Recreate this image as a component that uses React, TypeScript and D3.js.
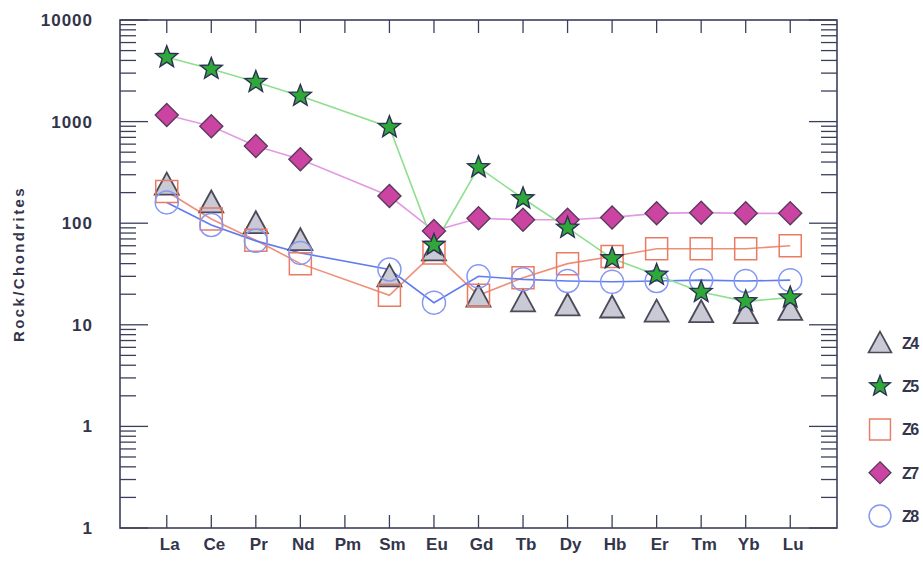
import React from "react";
import * as d3 from "d3";

// REE spider diagram, values normalised to chondrite
const elements = ["La", "Ce", "Pr", "Nd", "Pm", "Sm", "Eu", "Gd", "Tb", "Dy", "Hb", "Er", "Tm", "Yb", "Lu"];

const z4 = [240, 160, 100, 68, null, 30, 54, 19, 17, 15.5, 14.8, 13.5, 13.3, 13, 14];
const z5 = [4300, 3300, 2450, 1790, null, 880, 61, 355, 175, 90, 45, 31, 21, 17, 18.5];
const z6 = [205, 110, 68, 40, null, 19.5, 51, 19.5, 29, 40, 47, 56, 56, 56, 60];
const z7 = [1160, 900, 575, 425, null, 185, 84, 112, 108, 108, 114, 125, 127, 125, 125];
const z8 = [160, 96, 67, 51, null, 35, 16.5, 30, 28, 27, 26.5, 27, 27.5, 27, 27.5];

const seriesNames = ["Z4", "Z5", "Z6", "Z7", "Z8"];
const yTickValues = [10000, 1000, 100, 10, 1, 0.1];
const yTickLabels = ["10000", "1000", "100", "10", "1", "1"];

const W = 923;
const H = 564;
const margin = { top: 20, right: 86, bottom: 36, left: 120 };
const FONT = "'Liberation Sans', Arial, sans-serif";
const TEXT = "#33354a";

type Shape = "triangle" | "star" | "square" | "diamond" | "circle";

const styles: Record<string, { shape: Shape; fill: string; stroke: string; line: string | null; sw: number }> = {
  Z4: { shape: "triangle", fill: "#c9cad6", stroke: "#4b4b58", line: null, sw: 1.8 },
  Z5: { shape: "star", fill: "#2fa83a", stroke: "#2d3052", line: "#8fdf8f", sw: 1.4 },
  Z6: { shape: "square", fill: "none", stroke: "#ec7a62", line: "#ef8f78", sw: 1.5 },
  Z7: { shape: "diamond", fill: "#cc44a2", stroke: "#5a3a5c", line: "#e39ae4", sw: 1.4 },
  Z8: { shape: "circle", fill: "none", stroke: "#8597f3", line: "#5f7cf0", sw: 1.5 },
};

function shapePath(shape: Shape): string {
  const p = d3.path();
  if (shape === "triangle") {
    p.moveTo(0, -12);
    p.lineTo(12, 10);
    p.lineTo(-12, 10);
    p.closePath();
  } else if (shape === "square") {
    p.rect(-11, -11, 22, 22);
  } else if (shape === "diamond") {
    p.moveTo(0, -11.5);
    p.lineTo(11.5, 0);
    p.lineTo(0, 11.5);
    p.lineTo(-11.5, 0);
    p.closePath();
  } else if (shape === "circle") {
    p.arc(0, 0, 11.5, 0, Math.PI * 2);
  } else {
    for (let i = 0; i < 10; i++) {
      const r = i % 2 === 0 ? 11.5 : 4.9;
      const a = -Math.PI / 2 + (i * Math.PI) / 5;
      if (i === 0) p.moveTo(r * Math.cos(a), r * Math.sin(a));
      else p.lineTo(r * Math.cos(a), r * Math.sin(a));
    }
    p.closePath();
  }
  return p.toString();
}

export default function App() {
  const left = margin.left;
  const right = W - margin.right;
  const top = margin.top;
  const bottom = H - margin.bottom;

  const x = d3.scalePoint<string>().domain(elements).range([left, right]).padding(1.05);
  const y = d3.scaleLog().domain([0.1, 10000]).range([bottom, top]);

  const series = [
    { name: "Z4", values: z4 },
    { name: "Z5", values: z5 },
    { name: "Z6", values: z6 },
    { name: "Z8", values: z8 },
    { name: "Z7", values: z7 },
  ];
  // draw order: Z4, Z6, Z8 underneath, Z7 and Z5 on top
  const order = ["Z4", "Z6", "Z8", "Z7", "Z5"];
  const ordered = order.map((n) => series.find((s) => s.name === n)!);

  const line = d3
    .line<{ el: string; v: number }>()
    .x((d) => x(d.el)!)
    .y((d) => y(d.v));

  const pts = (vals: (number | null)[]) =>
    elements.map((el, i) => ({ el, v: vals[i] as number })).filter((d) => d.v != null);

  const allTicks = y.ticks();
  const legendY = d3.scalePoint<string>().domain(seriesNames).range([343, 516]);

  return (
    <svg width={W} height={H} style={{ position: "absolute", left: 0, top: 0, background: "#fff" }} fontFamily={FONT}>
      {/* minor/major ticks on left and right */}
      {allTicks.map((t, i) => {
        const major = Math.abs(Math.log10(t) - Math.round(Math.log10(t))) < 1e-9;
        const len = major ? 28 : 16;
        return (
          <g key={"yt" + i} stroke="#3c3f5c" strokeWidth={1.3}>
            <line x1={left} x2={left + len} y1={y(t)} y2={y(t)} />
            <line x1={right - len} x2={right} y1={y(t)} y2={y(t)} />
          </g>
        );
      })}
      {/* element ticks top and bottom */}
      {elements.map((el) => (
        <g key={"xt" + el} stroke="#3c3f5c" strokeWidth={1.3}>
          <line x1={x(el)} x2={x(el)} y1={bottom} y2={bottom - 13} />
          <line x1={x(el)} x2={x(el)} y1={top} y2={top + 13} />
        </g>
      ))}
      <rect x={left} y={top} width={right - left} height={bottom - top} fill="none" stroke="#3c3f5c" strokeWidth={1.6} />

      {/* y labels */}
      {yTickValues.map((v, i) => (
        <text
          key={"yl" + i}
          x={93}
          y={y(v)}
          dy="0.35em"
          textAnchor="end"
          fontSize={17}
          fontWeight="bold"
          letterSpacing={1}
          fill={TEXT}
        >
          {yTickLabels[i]}
        </text>
      ))}
      <text
        transform={`translate(24,${(top + bottom) / 2 - 10}) rotate(-90)`}
        textAnchor="middle"
        fontSize={15}
        fontWeight="bold"
        letterSpacing={2.4}
        fill={TEXT}
      >
        Rock/Chondrites
      </text>

      {/* x labels */}
      {elements.map((el) => (
        <text key={"xl" + el} x={x(el)! + 3} y={bottom + 22} textAnchor="middle" fontSize={17} fontWeight="bold" fill={TEXT}>
          {el}
        </text>
      ))}

      {/* lines */}
      {ordered.map((s) => {
        const st = styles[s.name];
        if (!st.line) return null;
        return <path key={"l" + s.name} d={line(pts(s.values)) || ""} fill="none" stroke={st.line} strokeWidth={1.6} />;
      })}

      {/* markers */}
      {ordered.map((s) => {
        const st = styles[s.name];
        const d = shapePath(st.shape);
        return (
          <g key={"m" + s.name}>
            {pts(s.values).map((p) => (
              <path
                key={p.el}
                d={d}
                transform={`translate(${x(p.el)},${y(p.v)})`}
                fill={st.fill}
                stroke={st.stroke}
                strokeWidth={st.sw}
                strokeLinejoin="miter"
              />
            ))}
          </g>
        );
      })}

      {/* legend */}
      {seriesNames.map((n) => {
        const st = styles[n];
        const ly = legendY(n)!;
        return (
          <g key={"lg" + n} transform={`translate(880,${ly})`}>
            <path d={shapePath(st.shape)} fill={st.fill} stroke={st.stroke} strokeWidth={st.sw} transform="scale(0.95)" />
            <text x={22} dy="0.36em" fontSize={16} fontWeight="bold" fill={TEXT} letterSpacing={-1.5}>
              {n}
            </text>
          </g>
        );
      })}
    </svg>
  );
}
